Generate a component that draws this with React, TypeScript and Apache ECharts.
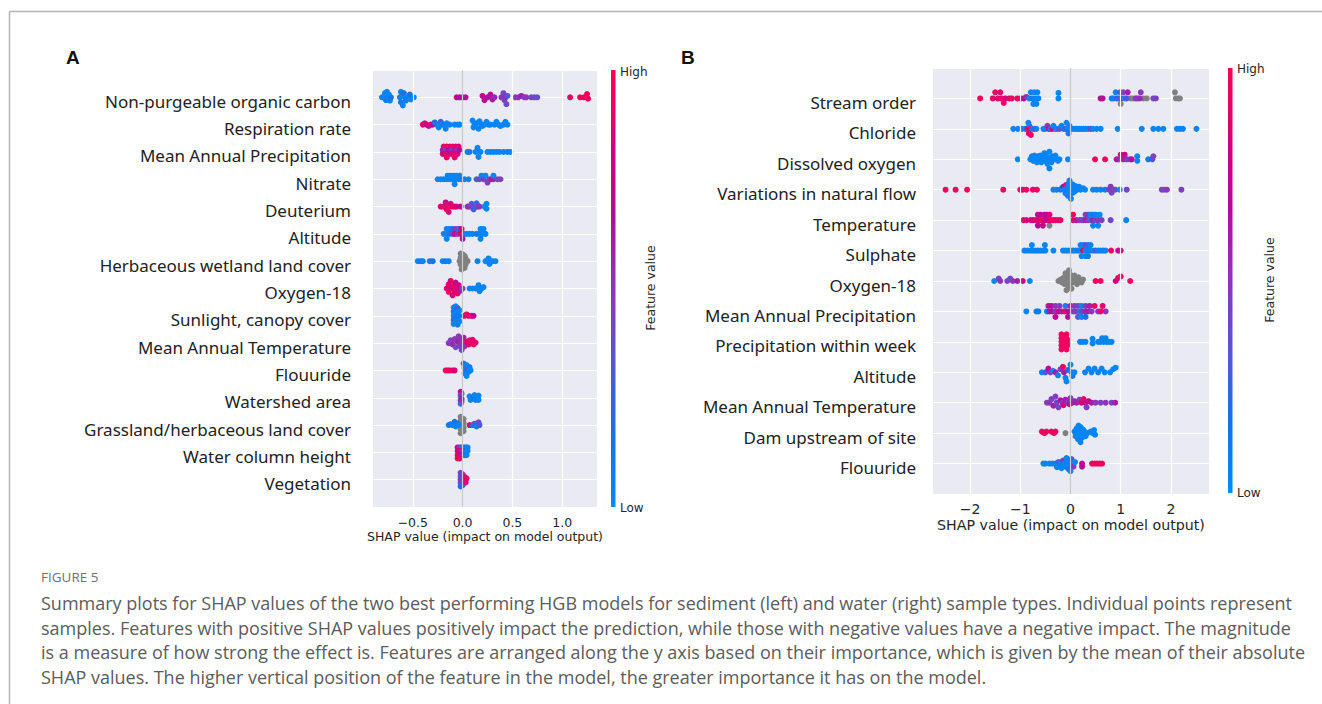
import React, { useEffect, useRef } from "react";
import * as echarts from "echarts";

type P = [number, number, number]; // [SHAP value, vertical jitter (row units), feature value 0..1, -1 = missing]

// ---------- Panel A (sediment) ----------
const namesA = [
  "Non-purgeable organic carbon",
  "Respiration rate",
  "Mean Annual Precipitation",
  "Nitrate",
  "Deuterium",
  "Altitude",
  "Herbaceous wetland land cover",
  "Oxygen-18",
  "Sunlight, canopy cover",
  "Mean Annual Temperature",
  "Flouuride",
  "Watershed area",
  "Grassland/herbaceous land cover",
  "Water column height",
  "Vegetation",
];
const a_npoc: P[] = [
  [-0.81, 0, 0.05], [-0.79, 0, 0.05], [-0.78, 0.15, 0.05], [-0.77, -0.1, 0.1], [-0.76, 0.2, 0.05], [-0.75, 0, 0.05], [-0.74, 0.1, 0.05], [-0.73, -0.12, 0.05], [-0.72, 0, 0.15],
  [-0.63, 0, 0.05], [-0.62, 0.2, 0.05], [-0.62, -0.18, 0.1], [-0.61, 0.08, 0.05], [-0.6, -0.3, 0.05], [-0.59, 0.15, 0.2], [-0.58, 0, 0.05], [-0.57, -0.12, 0.1], [-0.55, 0, 0.05], [-0.53, 0.1, 0.15], [-0.52, -0.08, 0.05], [-0.49, 0, 0.05],
  [-0.06, 0, 0.75], [-0.03, 0, 0.7], [0.0, 0, 0.7], [0.03, 0, 0.65],
  [0.2, 0.05, 0.7], [0.22, -0.1, 0.7], [0.25, 0, 0.65], [0.28, 0.1, 0.7], [0.3, -0.08, 0.6], [0.32, 0, 0.55],
  [0.39, 0, 0.5], [0.41, 0.15, 0.45], [0.42, -0.1, 0.4], [0.43, 0, 0.55], [0.44, -0.25, 0.4], [0.45, 0.05, 0.3],
  [0.53, 0, 0.45], [0.56, 0, 0.5], [0.59, 0.05, 0.6], [0.62, 0, 0.45], [0.64, 0, 0.5],
  [0.69, 0, 0.4], [0.72, 0, 0.45], [0.75, 0, 0.35],
  [1.08, 0, 0.95], [1.18, 0, 0.95], [1.22, 0, 0.9], [1.25, 0.12, 0.95], [1.26, -0.05, 0.95],
];
const a_resp: P[] = [
  [-0.4, 0, 0.9], [-0.38, 0.05, 0.85], [-0.36, 0, 0.8], [-0.34, -0.05, 0.75], [-0.32, 0, 0.85], [-0.3, 0, 0.7],
  [-0.28, 0.08, 0.2], [-0.26, 0, 0.1], [-0.24, -0.1, 0.05], [-0.22, 0.1, 0.3], [-0.21, 0, 0.05], [-0.19, 0, 0.1], [-0.17, -0.15, 0.05], [-0.16, 0.05, 0.05], [-0.13, 0, 0.05],
  [-0.08, 0, 0.05], [-0.05, 0, 0.05], [-0.03, 0, 0.05],
  [0.1, 0.15, 0.05], [0.11, -0.1, 0.05], [0.12, 0, 0.05], [0.14, 0.05, 0.05], [0.16, -0.15, 0.05], [0.17, 0.12, 0.05], [0.19, 0, 0.05], [0.2, -0.05, 0.05], [0.22, 0, 0.05], [0.24, 0.1, 0.05], [0.26, 0, 0.05], [0.28, 0, 0.05],
  [0.32, 0, 0.05], [0.34, 0.1, 0.05], [0.36, 0, 0.05], [0.38, -0.05, 0.05], [0.41, 0, 0.05], [0.43, 0.1, 0.05], [0.45, 0, 0.05],
];
const a_map: P[] = [
  [-0.19, 0.2, 0.9], [-0.16, 0.2, 0.95], [-0.13, 0.2, 0.9], [-0.1, 0.2, 0.95], [-0.07, 0.2, 0.9], [-0.04, 0.2, 0.85],
  [-0.2, 0.07, 0.6], [-0.17, 0.07, 0.5], [-0.14, 0.07, 0.7], [-0.11, 0.07, 0.5], [-0.08, 0.07, 0.6], [-0.05, 0.07, 0.5], [-0.03, 0.07, 0.7],
  [-0.2, -0.07, 0.8], [-0.17, -0.07, 0.9], [-0.14, -0.07, 0.7], [-0.11, -0.07, 0.85], [-0.08, -0.07, 0.9], [-0.05, -0.07, 0.8],
  [-0.16, -0.2, 0.95], [-0.08, -0.2, 0.9],
  [0.05, 0, 0.05], [0.07, 0, 0.1], [0.13, 0, 0.05], [0.15, 0.15, 0.05], [0.16, -0.18, 0.05], [0.18, 0, 0.05], [0.25, 0, 0.05], [0.28, 0, 0.05], [0.31, 0, 0.05], [0.34, 0, 0.05], [0.37, 0, 0.05], [0.41, 0, 0.05], [0.45, 0, 0.1], [0.48, 0, 0.05],
];
const a_nitrate: P[] = [
  [-0.15, 0.13, 0.05], [-0.12, 0.13, 0.05], [-0.09, 0.13, 0.05], [-0.06, 0.13, 0.05], [-0.03, 0.13, 0.05],
  [-0.25, 0, 0.05], [-0.22, 0, 0.05], [-0.19, 0, 0.05], [-0.16, 0, 0.05], [-0.13, 0, 0.05], [-0.1, 0, 0.05], [-0.07, 0, 0.05], [-0.04, 0, 0.05], [-0.01, 0, 0.1], [0.02, 0, 0.05], [0.06, 0, 0.05],
  [-0.08, -0.18, 0.05],
  [0.14, 0, 0.3], [0.17, 0, 0.4], [0.19, 0.13, 0.05], [0.21, 0, 0.45], [0.23, 0.13, 0.05], [0.25, -0.12, 0.45], [0.27, 0, 0.5], [0.29, 0, 0.9], [0.31, 0, 0.6], [0.31, 0.13, 0.05], [0.35, 0, 0.4], [0.38, 0, 0.45],
];
const a_deut: P[] = [
  [-0.22, 0, 0.85], [-0.19, 0, 0.9], [-0.17, 0.15, 0.8], [-0.16, -0.1, 0.95], [-0.15, 0.05, 0.9], [-0.14, -0.2, 0.85], [-0.13, 0, 0.95], [-0.12, 0.1, 0.8], [-0.1, 0, 0.9], [-0.08, 0, 0.85], [-0.06, 0, 0.8],
  [-0.02, 0, 0.7],
  [0.05, 0, 0.55], [0.07, 0, 0.5], [0.09, 0.1, 0.3], [0.1, 0, 0.45], [0.11, -0.1, 0.3], [0.13, 0, 0.2], [0.14, 0.12, 0.2], [0.15, 0, 0.4], [0.17, 0, 0.5],
  [0.22, 0, 0.05], [0.24, 0.1, 0.05], [0.24, -0.08, 0.05],
];
const a_alt: P[] = [
  [-0.16, 0.18, 0.05], [-0.13, 0.18, 0.05], [-0.1, 0.18, 0.2], [-0.07, 0.18, 0.5], [-0.04, 0.18, 0.3], [-0.01, 0.18, 0.85], [0.18, 0.18, 0.05], [0.21, 0.18, 0.05],
  [-0.19, 0, 0.05], [-0.16, 0, 0.05], [-0.13, 0, 0.1], [-0.1, 0, 0.3], [-0.08, 0, 0.75], [-0.05, 0, 0.5], [-0.02, 0, 0.8], [0.01, 0, 0.3], [0.04, 0, 0.05], [0.07, 0, 0.05], [0.1, 0, 0.05], [0.14, 0, 0.1], [0.17, 0, 0.05], [0.2, 0, 0.05], [0.23, 0, 0.05],
  [-0.16, -0.18, 0.05], [0.0, -0.18, 0.7], [0.18, -0.18, 0.05],
];
const a_herb: P[] = [
  [-0.45, 0, 0.05], [-0.42, 0, 0.1], [-0.4, 0, 0.05], [-0.33, 0, 0.05], [-0.3, 0, 0.15], [-0.2, 0, 0.05], [-0.17, 0, 0.1], [-0.14, 0, 0.05],
  [-0.02, 0.28, -1], [0.0, 0.25, -1], [0.02, 0.2, -1], [-0.02, 0.12, -1], [0.03, 0.1, -1], [0.0, 0.05, -1], [-0.03, 0, -1], [0.02, 0, -1], [0.05, 0, -1], [0.0, -0.05, -1], [-0.02, -0.12, -1], [0.03, -0.12, -1], [0.0, -0.2, -1], [0.02, -0.25, -1], [-0.01, -0.3, -1],
  [0.15, 0, 0.05], [0.23, 0, 0.05], [0.26, 0.1, 0.05], [0.27, -0.1, 0.05], [0.28, 0, 0.05], [0.3, 0, 0.05], [0.33, 0, 0.05],
];
const a_o18: P[] = [
  [-0.16, 0, 0.85], [-0.14, 0.15, 0.9], [-0.14, -0.12, 0.95], [-0.12, 0.28, 0.9], [-0.11, 0, 0.8], [-0.1, -0.25, 0.85], [-0.09, 0.1, 0.95], [-0.08, -0.1, 0.9], [-0.07, 0.22, 0.7], [-0.06, 0, 0.85], [-0.05, -0.18, 0.9], [-0.04, 0.12, 0.75], [-0.03, 0, 0.9], [-0.02, -0.08, 0.6], [0.0, 0, 0.5],
  [0.07, 0, 0.05], [0.1, 0, 0.05], [0.13, 0, 0.05], [0.16, 0.12, 0.05], [0.17, -0.1, 0.05], [0.19, 0, 0.05], [0.21, 0.05, 0.05],
];
const a_sun: P[] = [
  [-0.09, 0.3, 0.05], [-0.09, 0.15, 0.1], [-0.09, 0, 0.05], [-0.09, -0.15, 0.2], [-0.09, -0.3, 0.05],
  [-0.07, 0.35, 0.05], [-0.07, 0.2, 0.1], [-0.07, 0.05, 0.05], [-0.07, -0.1, 0.1], [-0.07, -0.25, 0.05],
  [-0.05, 0.28, 0.3], [-0.05, 0.12, 0.05], [-0.05, -0.02, 0.2], [-0.05, -0.18, 0.05], [-0.05, -0.32, 0.1],
  [-0.03, 0.2, 0.05], [-0.03, 0, 0.1], [-0.03, -0.2, 0.05],
  [0.02, 0, 0.9], [0.04, 0.05, 0.95], [0.06, 0, 0.9], [0.09, 0, 0.85], [0.11, 0, 0.7],
];
const a_mat: P[] = [
  [-0.14, 0, 0.5], [-0.12, 0.1, 0.45], [-0.1, -0.05, 0.55], [-0.08, 0.15, 0.5], [-0.07, -0.15, 0.4], [-0.05, 0.05, 0.6], [-0.04, 0.25, 0.5], [-0.03, -0.1, 0.45], [-0.02, 0.1, 0.55], [-0.01, -0.25, 0.4], [0.0, 0, 0.5], [0.01, 0.2, 0.6], [0.02, -0.12, 0.5],
  [0.04, 0.05, 0.85], [0.06, -0.05, 0.9], [0.07, 0.1, 0.95], [0.09, 0, 0.9], [0.1, 0.12, 0.85], [0.11, -0.05, 0.95], [0.13, 0.02, 0.9],
];
const a_fluor: P[] = [
  [-0.17, 0, 0.95], [-0.15, 0, 0.9], [-0.13, 0, 0.95], [-0.1, 0, 0.9], [-0.08, 0, 0.85],
  [0.01, 0.25, 0.2], [0.02, 0.1, 0.1], [0.02, -0.1, 0.05], [0.03, 0, 0.1], [0.04, 0.2, 0.05], [0.04, -0.2, 0.05], [0.05, 0.05, 0.3], [0.06, -0.05, 0.05], [0.07, 0.12, 0.1], [0.08, 0, 0.05],
];
const a_wshed: P[] = [
  [-0.02, 0.22, 0.7], [-0.02, 0.1, 0.5], [-0.02, 0, -1], [-0.02, -0.1, 0.4], [-0.02, -0.22, 0.3], [-0.01, 0.15, -1], [-0.01, -0.05, 0.6], [-0.01, -0.15, -1],
  [0.07, 0.05, 0.05], [0.08, -0.08, 0.05], [0.1, 0, 0.1], [0.12, 0.1, 0.05], [0.13, -0.08, 0.05], [0.15, 0, 0.1], [0.16, 0.08, 0.05], [0.16, -0.08, 0.05],
];
const a_grass: P[] = [
  [-0.14, 0, 0.05], [-0.12, 0.03, 0.1], [-0.1, 0, 0.05], [-0.08, 0.12, 0.15], [-0.07, -0.05, 0.05], [-0.05, 0.05, 0.2], [-0.04, 0, 0.05],
  [-0.02, 0.3, -1], [-0.02, 0.15, -1], [-0.02, 0, -1], [-0.02, -0.15, -1], [-0.02, -0.3, -1], [0.01, 0.22, -1], [0.01, 0.08, -1], [0.01, -0.08, -1], [0.01, -0.22, -1],
  [0.07, 0, 0.9], [0.1, 0, 0.2], [0.12, 0.05, 0.3], [0.14, -0.05, 0.05], [0.16, 0.1, 0.4], [0.17, 0, 0.3],
];
const a_wcol: P[] = [
  [-0.05, 0.18, 0.7], [-0.03, 0.18, 0.5], [-0.01, 0.18, 0.2], [0.01, 0.18, 0.05], [0.03, 0.18, 0.1], [0.05, 0.18, 0.05],
  [-0.05, 0.05, 0.8], [-0.03, 0.05, 0.9], [-0.01, 0.05, 0.6], [0.01, 0.05, 0.3], [0.03, 0.05, 0.1], [0.05, 0.05, 0.05],
  [-0.05, -0.1, 0.9], [-0.03, -0.1, 0.7], [-0.01, -0.1, 0.6], [0.02, -0.1, 0.2], [0.04, -0.1, 0.05],
  [-0.05, -0.22, 0.95], [-0.03, -0.22, 0.9],
];
const a_veg: P[] = [
  [-0.02, 0.25, 0.45], [-0.02, 0.12, 0.3], [-0.02, 0, 0.5], [-0.02, -0.12, 0.4], [-0.02, -0.25, 0.2],
  [0.0, 0.2, 0.5], [0.0, 0.05, 0.3], [0.0, -0.08, 0.45], [0.0, -0.2, 0.2],
  [0.02, 0.1, 0.9], [0.03, 0, 0.95], [0.04, 0.05, 0.9], [0.03, -0.1, 0.85],
];
const ptsA = [a_npoc, a_resp, a_map, a_nitrate, a_deut, a_alt, a_herb, a_o18, a_sun, a_mat, a_fluor, a_wshed, a_grass, a_wcol, a_veg];
const ticksA = [-0.5, 0, 0.5, 1.0];

// ---------- Panel B (water) ----------
const namesB = [
  "Stream order",
  "Chloride",
  "Dissolved oxygen",
  "Variations in natural flow",
  "Temperature",
  "Sulphate",
  "Oxygen-18",
  "Mean Annual Precipitation",
  "Precipitation within week",
  "Altitude",
  "Mean Annual Temperature",
  "Dam upstream of site",
  "Flouuride",
];
const b_stream: P[] = [
  [-1.8, 0, 0.95], [-1.55, 0, 0.9], [-1.5, 0.2, 0.95], [-1.45, 0, 0.85], [-1.4, 0.2, 0.9], [-1.38, 0, 0.95], [-1.33, -0.15, 0.9], [-1.3, 0, 0.8], [-1.22, 0, 0.9], [-1.17, 0, 0.95], [-1.06, 0, 0.95], [-0.99, 0, 0.9], [-0.93, 0, 0.7], [-0.88, 0.05, 0.5],
  [-0.82, 0, 0.05], [-0.79, 0.2, 0.05], [-0.76, 0, 0.1], [-0.74, -0.18, 0.05], [-0.72, 0.2, 0.05], [-0.7, 0, 0.05], [-0.68, -0.18, 0.05], [-0.66, 0.2, 0.05], [-0.64, 0, 0.05], [-0.24, 0.18, 0.05], [-0.24, 0, 0.05],
  [0.6, 0, 0.7], [0.64, 0, 0.65],
  [0.82, 0, 0.1], [0.86, 0, 0.05], [0.9, 0.2, 0.05], [0.92, 0, 0.2], [0.96, 0, 0.3], [0.99, 0.2, 0.3], [1.0, -0.18, -1], [1.02, 0, 0.5], [1.05, 0.2, 0.45], [1.08, 0, 0.05], [1.12, 0, 0.3], [1.14, 0.2, 0.6],
  [1.2, 0, -1], [1.25, 0, -1], [1.3, 0, 0.5], [1.33, 0, 0.45], [1.38, 0, 0.55], [1.4, 0.2, 0.5], [1.45, 0, -1], [1.52, 0, -1], [1.65, 0, 0.4], [1.7, 0, 0.45],
  [2.08, 0.2, -1], [2.1, 0, -1], [2.15, 0, -1], [2.18, 0, -1],
];
const b_chlor: P[] = [
  [-1.14, 0, 0.05], [-1.05, 0, 0.05], [-0.97, 0, 0.1], [-0.9, 0, 0.05], [-0.86, 0, 0.95], [-0.84, 0.2, 0.05], [-0.83, -0.15, 0.8], [-0.82, 0.1, 0.05], [-0.81, 0, 0.9], [-0.79, -0.2, 0.9], [-0.76, 0, 0.05], [-0.72, 0, 0.3], [-0.68, 0, 0.05],
  [-0.54, 0, 0.05], [-0.5, 0, 0.05], [-0.46, 0.1, 0.5], [-0.43, 0, 0.7], [-0.4, 0, 0.05], [-0.36, 0, 0.9], [-0.34, 0.1, 0.05], [-0.3, 0, 0.05], [-0.27, 0, 0.05], [-0.22, 0, 0.4], [-0.18, 0.1, 0.05], [-0.14, 0, 0.05], [-0.1, 0, 0.3], [-0.08, 0.2, 0.05], [-0.06, 0, 0.05], [-0.04, -0.15, 0.1], [-0.02, 0.1, 0.05],
  [0.0, 0, 0.05], [0.05, 0, 0.05], [0.1, 0, 0.05], [0.14, 0, 0.05], [0.18, 0, 0.05], [0.22, 0, 0.05], [0.26, 0, 0.05], [0.3, 0, 0.05], [0.35, 0, 0.05], [0.4, 0, 0.4], [0.45, 0, 0.05], [0.52, 0, 0.05], [0.6, 0, 0.05],
  [0.94, 0, 0.05], [1.42, 0, 0.05], [1.65, 0, 0.05], [1.75, 0, 0.05], [1.85, 0, 0.05], [2.12, 0, 0.05], [2.18, 0, 0.05], [2.24, 0, 0.05], [2.51, 0, 0.05],
];
const b_dox: P[] = [
  [-1.05, 0, 0.05],
  [-0.8, 0, 0.05], [-0.77, 0.1, 0.05], [-0.74, -0.05, 0.05], [-0.72, 0.12, 0.05], [-0.7, 0, 0.05], [-0.67, -0.1, 0.05], [-0.65, 0.1, 0.05], [-0.62, 0, 0.05], [-0.6, 0.12, 0.05], [-0.58, -0.1, 0.05], [-0.55, 0.05, 0.05], [-0.52, 0.2, 0.05], [-0.5, -0.05, 0.05],
  [-0.48, 0.1, 0.05], [-0.46, -0.15, 0.05], [-0.44, 0.05, 0.05], [-0.42, -0.3, 0.05], [-0.42, 0.25, 0.05], [-0.4, 0, 0.05], [-0.38, -0.1, 0.05], [-0.36, 0.1, 0.05], [-0.33, 0, 0.05], [-0.3, 0.12, 0.05], [-0.28, 0, 0.05], [-0.25, -0.05, 0.05], [-0.22, 0, 0.05],
  [-0.05, 0, 0.05], [0.49, 0, 0.95], [0.69, 0, 0.95], [0.92, 0, 0.7], [0.96, 0, 0.55], [1.0, 0.15, 0.75], [1.05, 0, 0.6], [1.08, 0.15, 0.8], [1.12, 0, 0.5], [1.18, 0, 0.45], [1.22, 0, 0.7],
  [1.33, 0.1, 0.05], [1.33, -0.05, 0.05], [1.55, 0, 0.1], [1.63, 0, 0.3], [1.65, 0.1, 0.45],
];
const b_flow: P[] = [
  [-2.49, 0, 0.95], [-2.29, 0, 0.95], [-2.06, 0, 0.95], [-1.34, 0, 0.95], [-1.0, 0, 0.95], [-0.95, 0, 0.9], [-0.88, 0, 0.95], [-0.75, 0, 0.9], [-0.67, 0, 0.95],
  [-0.34, 0, 0.05], [-0.28, 0, 0.05], [-0.2, 0, 0.1], [-0.17, 0.05, 0.05],
  [-0.14, 0.1, 0.7], [-0.12, 0, 0.05], [-0.1, -0.12, 0.05], [-0.09, 0.15, 0.8], [-0.07, 0.05, 0.05], [-0.05, -0.2, 0.05], [-0.04, 0.2, 0.05], [-0.03, -0.05, 0.05], [-0.02, 0.3, 0.05], [0.0, 0.08, 0.05], [0.0, -0.15, 0.05], [0.01, -0.3, 0.05],
  [0.02, 0, 0.05], [0.04, 0.18, 0.05], [0.05, -0.1, 0.05], [0.07, 0.05, 0.05], [0.09, -0.05, 0.05], [0.1, 0.12, 0.05], [0.13, 0, 0.05], [0.17, 0.1, 0.05], [0.2, 0, 0.05], [0.25, 0.05, 0.05], [0.29, 0, 0.05],
  [0.45, 0, 0.05], [0.52, 0, 0.05], [0.6, 0, 0.05], [0.69, 0, 0.1], [0.77, 0, 0.45], [0.8, 0.1, 0.5], [0.82, -0.1, 0.4], [0.85, 0, 0.5], [0.89, 0, 0.4], [0.98, 0, 0.05], [1.12, 0, 0.45],
  [1.82, 0, 0.45], [1.87, 0, 0.4], [1.92, 0, 0.5], [2.21, 0, 0.45],
];
const b_temp: P[] = [
  [-0.65, 0.18, 0.75], [-0.6, 0.18, 0.7], [-0.52, 0.18, 0.75], [-0.48, 0.18, 0.7], [-0.42, 0.18, 0.8], [0.05, 0.18, 0.95], [0.3, 0.18, 0.4], [0.35, 0.18, 0.5], [0.4, 0.18, 0.05], [0.45, 0.18, 0.1], [0.5, 0.18, 0.05], [0.58, 0.18, 0.05],
  [-0.94, 0, 0.95], [-0.88, 0, 0.85], [-0.8, 0, 0.9], [-0.75, 0, 0.7], [-0.7, 0, 0.95], [-0.65, 0, 0.8], [-0.6, 0, 0.9], [-0.55, 0, 0.95], [-0.5, 0, 0.7], [-0.45, 0, 0.8], [-0.4, 0, 0.9], [-0.35, 0, 0.95], [-0.3, 0, 0.9], [-0.25, 0, 0.95], [-0.2, 0, 0.9],
  [0.05, 0, 0.9], [0.12, 0, 0.6], [0.18, 0, 0.5], [0.22, 0, 0.45], [0.26, 0, 0.4], [0.3, 0, 0.6], [0.35, 0, 0.5], [0.4, 0, 0.3], [0.45, 0, 0.6], [0.5, 0, 0.4], [0.55, 0, 0.5], [0.62, 0, 0.45], [0.8, 0, 0.4], [1.11, 0, 0.05],
  [-0.65, -0.18, 0.7], [-0.55, -0.18, 0.75], [-0.42, -0.18, -1], [0.45, -0.18, 0.05], [0.55, -0.18, 0.05],
];
const b_sulph: P[] = [
  [-0.77, 0.18, 0.05], [-0.51, 0.18, 0.05], [0.2, 0.18, 0.05], [0.25, 0.18, 0.05], [0.3, 0.18, 0.4], [0.35, 0.18, 0.3], [0.4, 0.18, 0.05],
  [-0.92, 0, 0.05], [-0.86, 0, 0.05], [-0.8, 0, 0.05], [-0.75, 0, 0.05], [-0.7, 0, 0.05], [-0.65, 0, 0.05], [-0.6, 0, 0.05], [-0.55, 0, 0.05], [-0.5, 0, 0.05], [-0.34, 0, 0.05],
  [-0.15, 0, 0.05], [-0.1, 0, 0.05], [-0.05, 0, 0.05], [0.0, 0, 0.05], [0.05, 0, 0.05], [0.1, 0, 0.05], [0.15, 0, 0.1], [0.2, 0, 0.05], [0.25, 0, 0.95], [0.3, 0, 0.05], [0.35, 0, 0.1], [0.4, 0, 0.05], [0.45, 0, 0.05], [0.5, 0, 0.3], [0.55, 0, 0.05], [0.6, 0, 0.05], [0.65, 0, 0.05], [0.7, 0, 0.05],
  [0.81, 0, 0.95], [0.95, 0, 0.7], [1.0, 0, 0.75],
  [0.22, -0.18, 0.05], [0.3, -0.18, 0.05], [0.35, -0.18, 0.1],
];
const b_o18: P[] = [
  [-1.52, 0, 0.05], [-1.43, 0.08, 0.45], [-1.4, 0, 0.5], [-1.26, 0, 0.45], [-1.2, 0.08, 0.4], [-1.15, 0, 0.5], [-1.06, 0, 0.6], [-0.95, 0, 0.75], [-0.81, 0, 0.05],
  [-0.24, 0, -1], [-0.2, 0.05, -1], [-0.17, -0.05, -1], [-0.14, 0.1, -1], [-0.12, -0.1, -1], [-0.1, 0.25, -1], [-0.1, 0, -1], [-0.08, -0.3, -1], [-0.06, 0.15, -1], [-0.05, -0.15, -1], [-0.03, 0.35, -1], [-0.02, 0.05, -1],
  [0.0, -0.08, -1], [0.0, 0.2, -1], [0.02, -0.25, -1], [0.04, 0.1, -1], [0.06, -0.05, -1], [0.08, 0.18, -1], [0.1, 0, -1], [0.13, -0.1, -1], [0.16, 0.12, -1], [0.19, 0, -1], [0.22, -0.05, -1], [0.25, 0.05, -1],
  [0.5, 0, 0.95], [0.6, 0, 0.95], [0.9, 0, 0.8], [0.95, 0.1, 0.9], [1.0, 0.15, 0.95], [1.19, 0, 0.95],
];
const b_map: P[] = [
  [-0.44, 0.18, 0.6], [-0.38, 0.18, 0.7], [-0.3, 0.18, 0.5], [-0.22, 0.18, 0.45], [-0.1, 0.18, 0.05], [0.0, 0.18, 0.6], [0.08, 0.18, 0.5], [0.15, 0.18, 0.45], [0.22, 0.18, 0.05], [0.3, 0.18, 0.5], [0.38, 0.18, 0.6], [0.48, 0.18, 0.95], [0.64, 0.18, 0.9],
  [-0.88, 0, 0.05], [-0.68, 0, 0.05], [-0.64, 0, 0.1], [-0.47, 0, 0.05], [-0.42, 0, 0.6], [-0.36, 0, 0.7], [-0.3, 0, 0.5], [-0.24, 0, 0.8], [-0.18, 0, 0.6], [-0.12, 0, 0.9], [-0.05, 0, 0.7], [0.05, 0, 0.45], [0.1, 0, 0.5], [0.18, 0, 0.05], [0.22, 0, 0.4], [0.28, 0, 0.55], [0.34, 0, 0.6], [0.42, 0, 0.5], [0.55, 0, 0.45], [0.6, 0, 0.95], [0.7, 0, 0.5],
  [-0.3, -0.18, 0.7], [-0.05, -0.18, 0.7], [0.15, -0.18, 0.3], [0.22, -0.18, 0.05], [0.3, -0.18, 0.2],
];
const b_pweek: P[] = [
  [-0.18, 0.25, 0.95], [-0.18, 0.12, 0.95], [-0.18, 0, 0.95], [-0.18, -0.12, 0.95], [-0.18, -0.25, 0.95],
  [-0.13, 0.2, 0.95], [-0.13, 0.07, 0.95], [-0.13, -0.07, 0.95], [-0.13, -0.2, 0.9],
  [-0.08, 0.25, 0.95], [-0.08, 0.12, 0.95], [-0.08, 0, 0.95], [-0.08, -0.12, 0.95], [-0.08, -0.25, 0.95], [-0.05, 0.05, 0.95], [-0.05, -0.1, 0.95],
  [0.19, 0, 0.05], [0.24, 0, 0.05], [0.3, 0, 0.05], [0.44, 0.1, 0.05], [0.44, -0.05, 0.05], [0.55, 0, 0.05], [0.6, 0, 0.05], [0.63, 0.12, 0.05], [0.66, 0, 0.05], [0.7, 0.12, 0.05], [0.72, 0, 0.05], [0.77, 0, 0.05], [0.82, 0, 0.05],
];
const b_alt: P[] = [
  [-0.57, 0, 0.05], [-0.5, 0, 0.3], [-0.44, 0.12, 0.7], [-0.4, 0, 0.5], [-0.35, 0.05, 0.05], [-0.3, 0, 0.6], [-0.25, -0.1, 0.05], [-0.2, 0.1, 0.45], [-0.15, 0.18, 0.9], [-0.13, 0, 0.6], [-0.1, -0.18, 0.05], [-0.08, -0.3, 0.05], [-0.05, 0.08, 0.2],
  [0.0, 0.25, 0.05], [0.02, 0, 0.05], [0.04, -0.12, 0.1], [0.08, 0, 0.05], [0.29, 0, 0.05], [0.36, 0.12, 0.05], [0.42, 0, 0.05], [0.48, 0.12, 0.05], [0.55, 0, 0.05], [0.62, 0.12, 0.05], [0.68, 0, 0.05], [0.79, 0, 0.05], [0.85, 0.1, 0.05], [0.9, 0.15, 0.05],
];
const b_mat: P[] = [
  [-0.47, 0, 0.45], [-0.42, 0, 0.5], [-0.38, 0.12, 0.45], [-0.34, -0.1, 0.6], [-0.3, 0.2, 0.45], [-0.28, 0, 0.4], [-0.24, -0.15, 0.45], [-0.2, 0.08, 0.7], [-0.16, 0, 0.5], [-0.14, -0.08, 0.8], [-0.1, 0.1, 0.6], [-0.06, 0, 0.45], [-0.02, -0.05, 0.7],
  [0.0, 0.15, 0.5], [0.04, 0, 0.65], [0.08, 0.05, 0.55], [0.12, 0, 0.6], [0.18, 0.1, 0.45], [0.22, 0, 0.85], [0.26, 0.12, 0.9], [0.3, 0, 0.7], [0.32, -0.15, 0.45], [0.36, 0.05, 0.8], [0.42, 0, 0.6], [0.5, 0, 0.5], [0.6, 0, 0.45], [0.7, 0, 0.5], [0.82, 0, 0.45], [0.89, 0, 0.6],
];
const b_dam: P[] = [
  [-0.57, 0.05, 0.95], [-0.52, 0, 0.95], [-0.48, 0.05, 0.95], [-0.38, 0.05, 0.95], [-0.33, 0, 0.95], [-0.3, 0.05, 0.9],
  [-0.1, 0, -1],
  [0.08, 0.05, 0.05], [0.1, -0.1, 0.05], [0.12, 0.15, 0.05], [0.13, 0, 0.05], [0.15, -0.2, 0.05], [0.16, 0.25, 0.05], [0.17, 0.08, 0.05], [0.18, -0.05, 0.05], [0.2, 0.2, 0.05], [0.2, -0.3, 0.05], [0.22, 0, 0.05], [0.23, -0.15, 0.05], [0.25, 0.12, 0.05], [0.26, -0.05, 0.05], [0.28, 0.05, 0.05], [0.3, -0.1, 0.05], [0.33, 0, 0.05],
  [0.4, 0.05, 0.05], [0.44, 0, 0.05], [0.47, 0.1, 0.05], [0.49, -0.05, 0.05],
];
const b_fluor: P[] = [
  [-0.54, 0, 0.05], [-0.5, 0, 0.05], [-0.42, 0, 0.05], [-0.36, 0, 0.05], [-0.3, 0, 0.05], [-0.27, -0.12, 0.05], [-0.24, 0.05, 0.3], [-0.2, 0, 0.05], [-0.18, -0.15, 0.05], [-0.15, 0.1, 0.45], [-0.12, 0, 0.05], [-0.1, -0.1, 0.05], [-0.08, 0.18, 0.05], [-0.06, 0, 0.05], [-0.04, -0.18, 0.2], [-0.02, 0.08, 0.05],
  [0.0, -0.05, 0.05], [0.0, -0.25, 0.05], [0.02, 0.15, 0.3], [0.04, 0, 0.05], [0.06, -0.1, 0.45], [0.09, 0.05, 0.05],
  [0.23, 0, 0.7], [0.23, -0.1, 0.7], [0.43, 0, 0.95], [0.48, 0, 0.95], [0.53, 0, 0.95], [0.58, 0, 0.95], [0.63, 0, 0.95],
];
const ptsB = [b_stream, b_chlor, b_dox, b_flow, b_temp, b_sulph, b_o18, b_map, b_pweek, b_alt, b_mat, b_dam, b_fluor];
const ticksB = [-2, -1, 0, 1, 2];

// colormap (low -> high)
const shapColors = ["#008bfb", "#1672e8", "#5a55d2", "#8d36b9", "#b20d9a", "#d8007a", "#ff0052"];

const captionTitle = "FIGURE 5";
const captionLines = [
  "Summary plots for SHAP values of the two best performing HGB models for sediment (left) and water (right) sample types. Individual points represent",
  "samples. Features with positive SHAP values positively impact the prediction, while those with negative values have a negative impact. The magnitude",
  "is a measure of how strong the effect is. Features are arranged along the y axis based on their importance, which is given by the mean of their absolute",
  "SHAP values. The higher vertical position of the feature in the model, the greater importance it has on the model.",
];

function build(pts: P[][]) {
  const n = pts.length;
  const gray: number[][] = [];
  const col: number[][] = [];
  pts.forEach((row, i) => {
    const base = n - 1 - i;
    row.forEach(([x, dy, c]) => {
      if (c < 0) gray.push([x, base + dy, c]);
      else col.push([x, base + dy, c]);
    });
  });
  return { gray, col };
}

const minus = (s: string) => s.replace("-", "\u2212");

export default function App() {
  const ref = useRef<HTMLDivElement>(null);
  useEffect(() => {
    if (!ref.current) return;
    const chart = echarts.init(ref.current, undefined, { renderer: "svg" });
    const A = build(ptsA);
    const B = build(ptsB);
    const tickFont = "DejaVu Sans";
    const labelFont = "Noto Sans";
    const gridLine = (ticks: number[]) => ({
      silent: true,
      symbol: "none",
      label: { show: false },
      animation: false,
      data: ticks.map((t) => ({
        xAxis: t,
        lineStyle: t === 0 ? { color: "#c9c9cc", width: 1.2, type: "solid" } : { color: "#ffffff", width: 1.2, type: "solid" },
      })),
    });
    const yAxis = (names: string[], gi: number, margin: number) => ({
      gridIndex: gi,
      type: "value",
      min: -1,
      max: names.length,
      interval: 1,
      axisLine: { show: false },
      axisTick: { show: false },
      splitLine: { show: true, lineStyle: { color: "#ffffff", width: 1.2 } },
      axisLabel: {
        margin,
        fontSize: 17,
        fontFamily: labelFont,
        color: "#222222",
        rich: { l: { fontSize: 17, fontFamily: labelFont, color: "#222222", padding: [8, 0, 0, 0] } },
        formatter: (v: number) => {
          const k = Math.round(v);
          return k >= 0 && k < names.length ? "{l|" + names[names.length - 1 - k] + "}" : "";
        },
      },
    });
    const bar = (x: number, top: number, bottom: number, w: number) => ({
      type: "rect",
      shape: { x, y: top, width: w, height: bottom - top },
      style: {
        fill: {
          type: "linear", x: 0, y: 1, x2: 0, y2: 0,
          colorStops: shapColors.map((c, i) => ({ offset: i / (shapColors.length - 1), color: c })),
        },
      },
    });
    const txt = (x: number, y: number, text: string, size: number, extra: any = {}) => ({
      type: "text",
      x, y,
      style: { text, fontSize: size, fontFamily: tickFont, fill: "#262626", verticalAlign: "middle", ...extra },
    });
    const option: any = {
      animation: false,
      backgroundColor: "#ffffff",
      grid: [
        { left: 373, top: 70, width: 224, height: 437, show: true, backgroundColor: "#eaeaf2", borderWidth: 0 },
        { left: 933, top: 68, width: 276, height: 426, show: true, backgroundColor: "#eaeaf2", borderWidth: 0 },
      ],
      xAxis: [
        {
          gridIndex: 0, type: "value", min: -0.9, max: 1.35,
          axisLine: { show: false },
          splitLine: { show: false },
          axisTick: { show: true, customValues: ticksA, length: 6, lineStyle: { color: "#333333", width: 1 } },
          axisLabel: { customValues: ticksA, margin: 9, fontSize: 12.5, fontFamily: tickFont, color: "#262626", formatter: (v: number) => minus(v.toFixed(1)) },
          name: "SHAP value (impact on model output)", nameLocation: "middle", nameGap: 22.5, nameMoveOverlap: false,
          nameTextStyle: { fontSize: 12.5, fontFamily: tickFont, color: "#262626" },
        },
        {
          gridIndex: 1, type: "value", min: -2.74, max: 2.76,
          axisLine: { show: false },
          splitLine: { show: false },
          axisTick: { show: true, customValues: ticksB, length: 6, lineStyle: { color: "#333333", width: 1 } },
          axisLabel: { customValues: ticksB, margin: 8, fontSize: 14, fontFamily: tickFont, color: "#262626", formatter: (v: number) => minus(String(v)) },
          name: "SHAP value (impact on model output)", nameLocation: "middle", nameGap: 23.5, nameMoveOverlap: false,
          nameTextStyle: { fontSize: 14.2, fontFamily: tickFont, color: "#262626" },
        },
      ],
      yAxis: [yAxis(namesA, 0, 22), yAxis(namesB, 1, 17)],
      visualMap: [
        { type: "continuous", show: false, dimension: 2, min: 0, max: 1, seriesIndex: [2, 5], inRange: { color: shapColors } },
      ],
      series: [
        { type: "scatter", xAxisIndex: 0, yAxisIndex: 0, data: [], z: 1, markLine: gridLine(ticksA) },
        { type: "scatter", xAxisIndex: 0, yAxisIndex: 0, data: A.gray, symbolSize: 6, itemStyle: { color: "#808080", opacity: 1 }, z: 3, silent: true },
        { type: "scatter", xAxisIndex: 0, yAxisIndex: 0, data: A.col, symbolSize: 6, itemStyle: { opacity: 1 }, z: 4, silent: true },
        { type: "scatter", xAxisIndex: 1, yAxisIndex: 1, data: [], z: 1, markLine: gridLine(ticksB) },
        { type: "scatter", xAxisIndex: 1, yAxisIndex: 1, data: B.gray, symbolSize: 6, itemStyle: { color: "#808080", opacity: 1 }, z: 3, silent: true },
        { type: "scatter", xAxisIndex: 1, yAxisIndex: 1, data: B.col, symbolSize: 6, itemStyle: { opacity: 1 }, z: 4, silent: true },
      ],
      graphic: [
        { type: "line", shape: { x1: 9.5, y1: 11.5, x2: 1322, y2: 11.5 }, style: { stroke: "#b4b4b4", lineWidth: 1.5 } },
        { type: "line", shape: { x1: 9.5, y1: 11.5, x2: 9.5, y2: 704 }, style: { stroke: "#b4b4b4", lineWidth: 1.5 } },
        txt(66, 57, "A", 19, { fontFamily: "Liberation Sans", fontWeight: "bold", fill: "#111111" }),
        txt(681, 57, "B", 19, { fontFamily: "Liberation Sans", fontWeight: "bold", fill: "#111111" }),
        bar(611, 70, 507, 4.5),
        txt(620, 72, "High", 12),
        txt(620, 508, "Low", 12),
        { type: "text", x: 650, y: 288, rotation: Math.PI / 2, style: { text: "Feature value", fontSize: 12.5, fontFamily: tickFont, fill: "#262626", align: "center", verticalAlign: "middle" } },
        bar(1228, 68, 493, 4.5),
        txt(1237, 69, "High", 12),
        txt(1237, 493, "Low", 12),
        { type: "text", x: 1269, y: 280, rotation: Math.PI / 2, style: { text: "Feature value", fontSize: 12.5, fontFamily: tickFont, fill: "#262626", align: "center", verticalAlign: "middle" } },
        txt(41, 577, captionTitle, 13.5, { fontFamily: "Open Sans", fill: "#707070" }),
        ...captionLines.map((l, i) => txt(41, 603 + i * 24.7, l, 18, { fontFamily: "Open Sans", fill: "#5c5c5c" })),
      ],
    };
    chart.setOption(option);
    return () => chart.dispose();
  }, []);
  return <div ref={ref} style={{ position: "absolute", left: 0, top: 0, width: 1322, height: 704, background: "#fff" }} />;
}
